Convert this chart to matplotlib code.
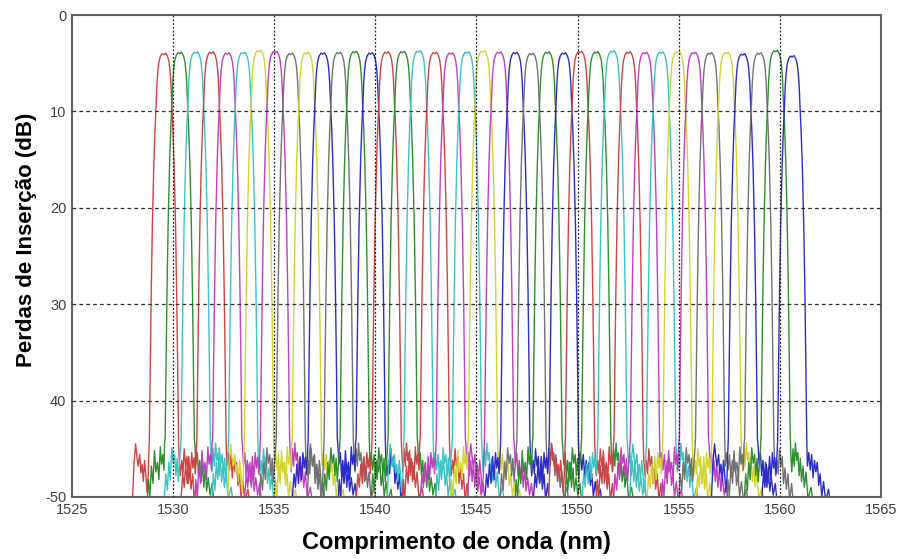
import numpy as np
import matplotlib
matplotlib.use("Agg")
import matplotlib.pyplot as plt

# ---------------- data ----------------
# channel centre wavelengths (nm), 100 GHz grid
centers = [1529.55, 1530.33, 1531.12, 1531.90, 1532.68, 1533.47, 1534.25, 1535.04,
           1535.82, 1536.61, 1537.40, 1538.19, 1538.98, 1539.77, 1540.56, 1541.35,
           1542.14, 1542.94, 1543.73, 1544.53, 1545.32, 1546.12, 1546.92, 1547.72,
           1548.51, 1549.32, 1550.12, 1550.92, 1551.72, 1552.52, 1553.33, 1554.13,
           1554.94, 1555.75, 1556.55, 1557.36, 1558.17, 1558.98, 1559.79, 1560.61]

# insertion loss at channel top (dB)
peak_loss = [3.95, 3.85, 3.80, 3.80, 3.90, 3.85, 3.65, 3.75, 3.95, 3.85, 3.90, 3.85,
             3.75, 3.90, 3.80, 3.75, 3.70, 3.85, 3.90, 3.80, 3.70, 3.80, 3.85, 3.95,
             3.80, 3.90, 3.75, 3.80, 3.70, 3.80, 3.85, 3.80, 3.75, 3.85, 3.90, 3.85,
             4.00, 3.90, 3.65, 4.20]

channel_colors = ['r', 'g', 'c', 'r', 'm', 'c', 'y', 'm', 'k', 'y', 'b', 'k', 'g', 'b',
                  'r', 'g', 'c', 'r', 'm', 'c', 'y', 'm', 'b', 'k', 'g', 'b',
                  'r', 'g', 'c', 'r', 'm', 'c', 'y', 'm', 'k', 'y', 'b', 'k', 'g', 'b']

# passband shape read from the first channel: offset (nm) and loss below the top (dB)
lobe_dx = [-0.72, -0.68, -0.63, -0.57, -0.50, -0.44, -0.40, -0.37, -0.34, -0.30, -0.25, -0.18,
           -0.09, 0.0, 0.09, 0.18, 0.25, 0.30, 0.34, 0.37, 0.40, 0.44, 0.50, 0.57,
           0.63, 0.68, 0.72]
lobe_rel = [-40, -33, -25, -17.5, -11.5, -7.8, -6.0, -4.5, -3.0, -1.8, -0.9, -0.35,
            -0.05, -0.15, 0.0, -0.35, -0.9, -1.8, -3.0, -4.5, -6.0, -7.8, -11.5, -17.5,
            -25, -33, -40]

# noise-floor side structures (offset nm, level dB)
floor_left_dx = [
    [-2.0, -1.55, -1.48, -1.4, -1.34, -1.28, -1.2, -1.14, -1.08, -1.02, -0.96, -0.9, -0.84, -0.78, -0.75],
    [-1.9, -1.62, -1.55, -1.48, -1.4, -1.32, -1.25, -1.18, -1.1, -1.03, -0.96, -0.9, -0.84, -0.78, -0.75],
    [-1.85, -1.56, -1.48, -1.4, -1.33, -1.26, -1.18, -1.11, -1.04, -0.98, -0.92, -0.86, -0.8, -0.75],
    [-1.75, -1.5, -1.42, -1.35, -1.28, -1.2, -1.12, -1.05, -0.98, -0.92, -0.86, -0.8, -0.75],
]
floor_left_db = [
    [-53, -50, -46.5, -44.5, -45.8, -46.8, -45.6, -47.5, -46.6, -48.4, -46.2, -47.6, -49.5, -47.8, -45.5],
    [-53, -51, -48.2, -50, -46.8, -48.6, -45.2, -47.4, -46.4, -48.2, -44.8, -46.6, -45.6, -47.2, -44.5],
    [-52, -50.5, -47.6, -49.3, -46.4, -48.2, -44.9, -46.5, -45.6, -47.8, -46.0, -48.4, -46.4, -45],
    [-53, -50, -47.6, -49.0, -46.6, -48.6, -45.8, -48.2, -45.4, -47.0, -45.9, -47.6, -45.5],
]
floor_right_dx = [
    [0.75, 0.8, 0.86, 0.92, 0.98, 1.04, 1.1, 1.16, 1.22, 1.28, 1.35, 1.42, 1.5, 1.6, 1.75, 2.0],
    [0.75, 0.81, 0.88, 0.94, 1.0, 1.07, 1.14, 1.2, 1.27, 1.34, 1.42, 1.5, 1.6, 1.72, 1.95],
    [0.75, 0.8, 0.87, 0.93, 0.99, 1.06, 1.12, 1.19, 1.26, 1.33, 1.41, 1.5, 1.6, 1.72, 1.9],
    [0.75, 0.82, 0.89, 0.96, 1.03, 1.1, 1.17, 1.24, 1.31, 1.38, 1.46, 1.55, 1.65, 1.8, 2.0],
]
floor_right_db = [
    [-45.5, -47.4, -45.0, -46.8, -44.4, -46.2, -45.4, -47.8, -46.0, -48.4, -46.8, -49.0, -47.4, -50.2, -49.0, -53],
    [-46.0, -47.8, -46.2, -47.6, -45.0, -46.8, -45.8, -48.6, -47.0, -49.2, -47.6, -50.4, -48.6, -51.5, -53],
    [-44.6, -46.6, -45.4, -47.8, -46.2, -48.4, -46.4, -49.0, -47.0, -49.4, -48.0, -49.8, -48.6, -51.0, -53],
    [-46.8, -45.4, -47.2, -45.6, -48.0, -46.2, -47.4, -46.4, -48.8, -47.6, -50.0, -48.4, -50.4, -49.2, -53],
]
left_pattern = [0, 1, 2, 3, 1, 2, 0, 3, 2, 1, 3, 0, 2, 1, 3, 2, 0, 1, 3, 2,
                1, 0, 3, 2, 1, 3, 0, 2, 3, 1, 2, 0, 3, 1, 2, 3, 0, 1, 2, 3]
right_pattern = [1, 2, 0, 3, 2, 1, 3, 0, 1, 3, 2, 0, 3, 1, 0, 2, 3, 1, 2, 0,
                 3, 2, 1, 0, 2, 3, 1, 0, 2, 1, 3, 0, 1, 2, 3, 0, 2, 1, 0, 3]

x_ticks = [1525, 1530, 1535, 1540, 1545, 1550, 1555, 1560, 1565]
y_ticks = [0, -10, -20, -30, -40, -50]
y_tick_labels = ['0', '10', '20', '30', '40', '-50']

palette = {'r': '#cc4444', 'g': '#2f8f2f', 'c': '#3cc4c4', 'm': '#c040c0',
           'y': '#d4d42e', 'k': '#727272', 'b': '#2c2cc8'}

# ---------------- figure ----------------
plt.rcParams['font.family'] = ['Liberation Sans', 'DejaVu Sans']
fig = plt.figure(figsize=(8.99, 5.59), dpi=100)
ax = fig.add_axes([0.080, 0.111, 0.900, 0.862])

for i, c in enumerate(centers):
    lp = left_pattern[i]
    rp = right_pattern[i]
    xs = np.concatenate([c + np.array(floor_left_dx[lp]),
                         c + np.array(lobe_dx),
                         c + np.array(floor_right_dx[rp])])
    ys = np.concatenate([np.array(floor_left_db[lp]),
                         -peak_loss[i] + np.array(lobe_rel),
                         np.array(floor_right_db[rp])])
    ax.plot(xs, ys, color=palette[channel_colors[i]], lw=1.0, zorder=2)

ax.set_xlim(1525, 1565)
ax.set_ylim(-50, 0)
ax.set_xticks(x_ticks)
ax.set_xticklabels([str(t) for t in x_ticks])
ax.set_yticks(y_ticks)
ax.set_yticklabels(y_tick_labels)
ax.tick_params(length=0, labelsize=10.5, labelcolor='#404040', pad=4)

# grid (drawn above data, as in the reference)
for t in x_ticks[1:-1]:
    ax.axvline(t, color='#202020', lw=0.9, ls=(0, (1.5, 1.5)), zorder=3)
for t in y_ticks[1:-1]:
    ax.axhline(t, color='#303030', lw=0.9, ls=(0, (3, 2.5)), zorder=3)

for s in ax.spines.values():
    s.set_color('#606060')
    s.set_linewidth(1.5)

ax.set_xlabel('Comprimento de onda (nm)', fontsize=17, fontweight='bold')
ax.xaxis.set_label_coords(0.475, -0.070)
ax.set_ylabel('Perdas de Inserção (dB)', fontsize=16, fontweight='bold')
ax.yaxis.set_label_coords(-0.043, 0.533)

fig.savefig('out.png', dpi=100)
